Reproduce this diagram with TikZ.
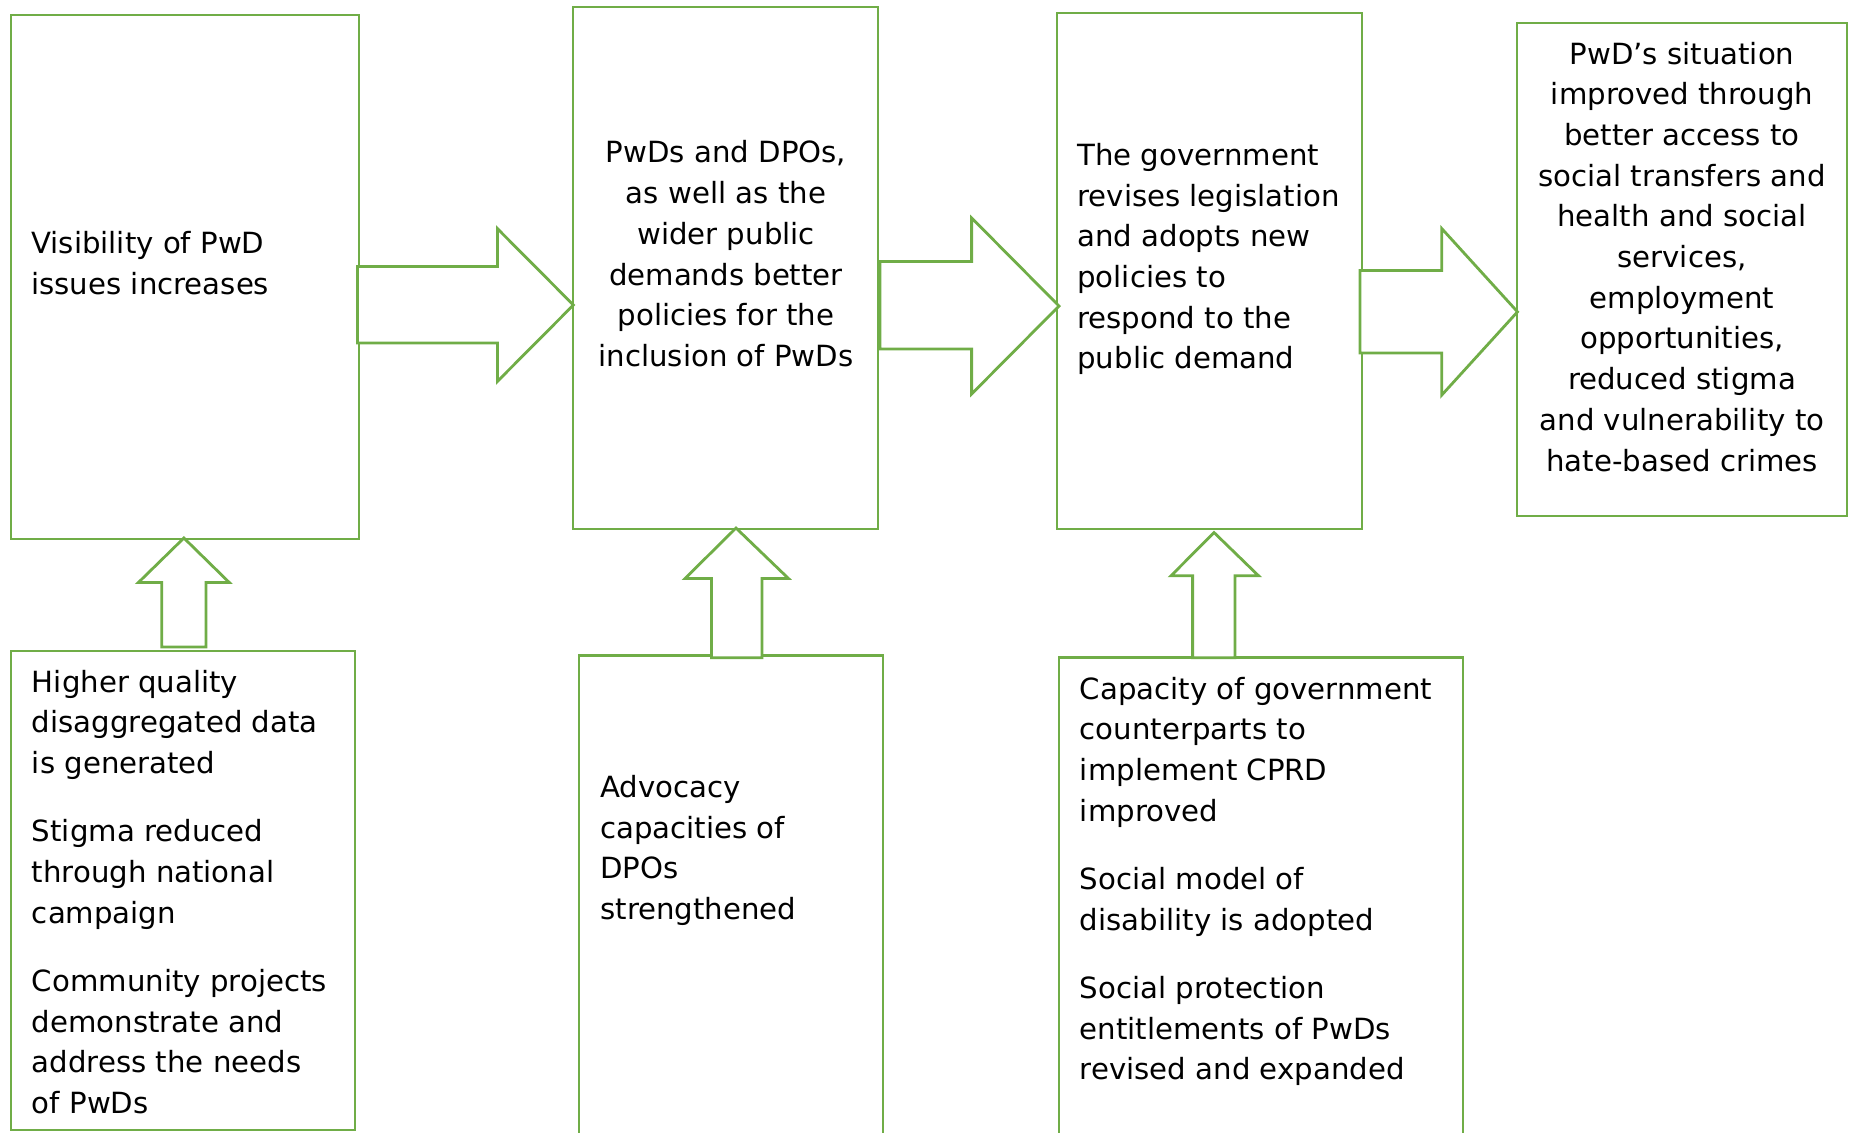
\documentclass[tikz,border=0pt]{standalone}
\usepackage{fontspec}
\setmainfont{DejaVu Sans}
\usetikzlibrary{fit}
\definecolor{grn}{HTML}{70AD47}
\begin{document}
\begin{tikzpicture}[x=0.5pt,y=-0.5pt,
  box/.style={draw=grn,line width=1.4pt,inner sep=0pt},
  blk/.style={draw=grn,fill=white,line width=1.4pt,line join=miter},
  txt/.style={inner sep=0pt,font=\fontsize{14.6pt}{20.35pt}\selectfont}]
\useasboundingbox (0,0) rectangle (1853,1132);
\clip (0,0) rectangle (1853,1132);
% boxes
\node[box,fit={(11,15) (359,539)}] (b1) {};
\node[box,fit={(573,7) (878,529)}] (b2) {};
\node[box,fit={(1057,13) (1362,529)}] (b3) {};
\node[box,fit={(1517,23) (1847,516)}] (b4) {};
\node[box,fit={(11,651) (355,1130)}] (b5) {};
\node[box,fit={(579,655.4) (883,1150)}] (b6) {};
\node[box,fit={(1059,657.8) (1463,1150)}] (b7) {};
% texts
\node[txt,anchor=north west,align=left] (t1) at (31,224.4) {\strut Visibility of PwD\\issues increases};
\node[txt,anchor=north,align=center] (t2) at (726,134) {\strut PwDs and DPOs,\\as well as the\\wider public\\demands better\\policies for the\\inclusion of PwDs};
\node[txt,anchor=north west,align=left] (t3) at (1077,136.5) {\strut The government\\revises legislation\\and adopts new\\policies to\\respond to the\\public demand};
\node[txt,anchor=north,align=center] (t4) at (1682,35.1) {\strut PwD’s situation\\improved through\\better access to\\social transfers and\\health and social\\services,\\employment\\opportunities,\\reduced stigma\\and vulnerability to\\hate-based crimes};
\node[txt,anchor=north west,align=left] (t5) at (31.6,663.2) {\strut Higher quality\\disaggregated data\\is generated\\[13.75pt]Stigma reduced\\through national\\campaign\\[13.75pt]Community projects\\demonstrate and\\address the needs\\of PwDs};
\node[txt,anchor=north west,align=left] (t6) at (600,768.5) {\strut Advocacy\\capacities of\\DPOs\\strengthened};
\node[txt,anchor=north west,align=left] (t7) at (1079.5,670.3) {\strut Capacity of government\\counterparts to\\implement CPRD\\improved\\[13.75pt]Social model of\\disability is adopted\\[13.75pt]Social protection\\entitlements of PwDs\\revised and expanded};
% right block arrows
\draw[blk] (357.5,266.4) -- (497.4,266.4) -- (497.4,228.6) -- (573.4,305) -- (497.4,381.4) -- (497.4,342.9) -- (357.5,342.9) -- cycle;
\draw[blk] (880,261.4) -- (971.6,261.4) -- (971.6,217.9) -- (1059,306) -- (971.6,394) -- (971.6,349) -- (880,349) -- cycle;
\draw[blk] (1360,270.4) -- (1441.8,270.4) -- (1441.8,228.6) -- (1517.5,311.8) -- (1441.8,395) -- (1441.8,352.9) -- (1360,352.9) -- cycle;
% up block arrows
\draw[blk] (161.7,646.9) -- (161.7,582.5) -- (138.4,582.5) -- (183.9,538) -- (229.3,582.5) -- (206,582.5) -- (206,646.9) -- cycle;
\draw[blk] (711.5,657.8) -- (711.5,578.5) -- (685,578.5) -- (736,528) -- (788.5,578.5) -- (762,578.5) -- (762,657.8) -- cycle;
\draw[blk] (1192.6,657.8) -- (1192.6,575.8) -- (1171,575.8) -- (1214,532.5) -- (1258.6,575.8) -- (1235,575.8) -- (1235,657.8) -- cycle;
\end{tikzpicture}
\end{document}
